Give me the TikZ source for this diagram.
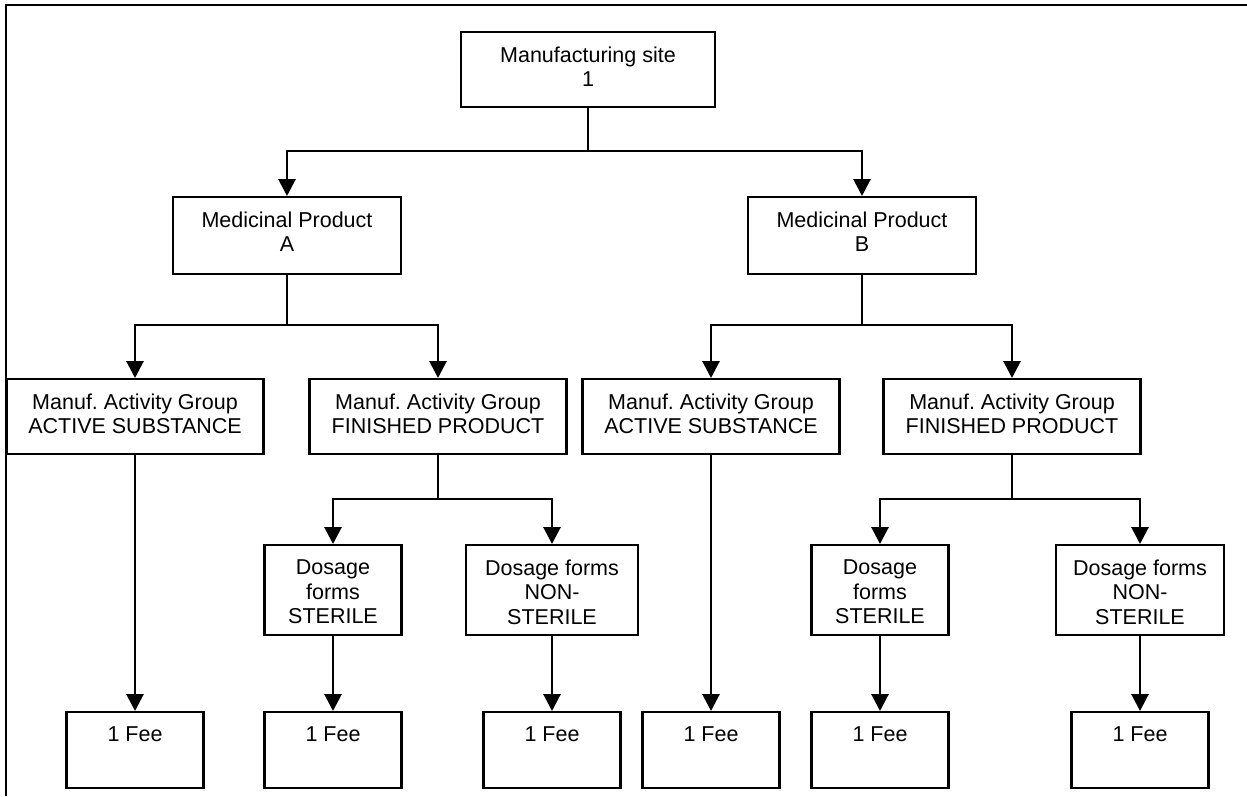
\documentclass[tikz,border=0pt]{standalone}
\usepackage{fontspec}
\setmainfont{Liberation Sans}
\usetikzlibrary{arrows.meta}
\begin{document}
\frenchspacing
\begin{tikzpicture}[x=1pt,y=-1pt,
  box/.style={draw, line width=2.1pt, inner sep=0pt, anchor=north},
  txt/.style={anchor=north, inner sep=0pt, align=center,
              font=\fontsize{21.5}{24.5}\selectfont},
  conn/.style={line width=2.9pt},
  arr/.style={conn, -{Triangle[length=17pt,width=17pt]}},
  frame/.style={line width=2.6pt}]
\useasboundingbox (0,0) rectangle (1247,796);

% open frame: top and left edges
\coordinate (fl) at (6,796);
\coordinate (fc) at (6,5);
\coordinate (fr) at (1247,5);
\draw[frame] (fl) -- (fc) -- (fr);

% level 0
\node[box, minimum width=254pt, minimum height=75pt] (site) at (588,31) {};
\node[txt] at ([yshift=-15.5pt]site.north) {Manufacturing site\\1};

% level 1
\node[box, minimum width=228pt, minimum height=77pt] (mpA) at (287,196) {};
\node[txt] at ([yshift=-15.5pt]mpA.north) {Medicinal Product\\A};
\node[box, minimum width=228pt, minimum height=77pt] (mpB) at (862,196) {};
\node[txt] at ([yshift=-15.5pt]mpB.north) {Medicinal Product\\B};

% level 2
\node[box, minimum width=257pt, minimum height=75pt] (asA) at (135,378) {};
\node[txt] at ([yshift=-15.5pt]asA.north) {Manuf. Activity Group\\ACTIVE SUBSTANCE};
\node[box, minimum width=257pt, minimum height=75pt] (fpA) at (438,378) {};
\node[txt] at ([yshift=-15.5pt]fpA.north) {Manuf. Activity Group\\FINISHED PRODUCT};
\node[box, minimum width=257pt, minimum height=75pt] (asB) at (711,378) {};
\node[txt] at ([yshift=-15.5pt]asB.north) {Manuf. Activity Group\\ACTIVE SUBSTANCE};
\node[box, minimum width=257pt, minimum height=75pt] (fpB) at (1012,378) {};
\node[txt] at ([yshift=-15.5pt]fpB.north) {Manuf. Activity Group\\FINISHED PRODUCT};

% level 3
\node[box, minimum width=137pt, minimum height=90pt] (stA) at (333,544) {};
\node[txt] at ([yshift=-15.5pt]stA.north) {Dosage\\forms\\STERILE};
\node[box, minimum width=172pt, minimum height=90pt] (nsA) at (552,544) {};
\node[txt] at ([yshift=-15.5pt]nsA.north) {Dosage forms\\NON-\\STERILE};
\node[box, minimum width=137pt, minimum height=90pt] (stB) at (880,544) {};
\node[txt] at ([yshift=-15.5pt]stB.north) {Dosage\\forms\\STERILE};
\node[box, minimum width=168pt, minimum height=90pt] (nsB) at (1140,544) {};
\node[txt] at ([yshift=-15.5pt]nsB.north) {Dosage forms\\NON-\\STERILE};

% fees
\foreach \n/\x in {f1/135, f2/333, f3/552, f4/711, f5/880, f6/1140}{
  \node[box, minimum width=137pt, minimum height=76pt] (\n) at (\x,711) {};
  \node[txt] at ([yshift=-15.5pt]\n.north) {1 Fee};
}

% junctions
\coordinate (j0) at (588,151);
\coordinate (jA) at (287,325);
\coordinate (jB) at (862,325);
\coordinate (jfA) at (438,499);
\coordinate (jfB) at (1012,499);

% connectors
\draw[conn] (site.south) -- (j0);
\draw[arr] (j0) -| (mpA.north);
\draw[arr] (j0) -| (mpB.north);

\draw[conn] (mpA.south) -- (jA);
\draw[arr] (jA) -| (asA.north);
\draw[arr] (jA) -| (fpA.north);
\draw[conn] (mpB.south) -- (jB);
\draw[arr] (jB) -| (asB.north);
\draw[arr] (jB) -| (fpB.north);

\draw[conn] (fpA.south) -- (jfA);
\draw[arr] (jfA) -| (stA.north);
\draw[arr] (jfA) -| (nsA.north);
\draw[conn] (fpB.south) -- (jfB);
\draw[arr] (jfB) -| (stB.north);
\draw[arr] (jfB) -| (nsB.north);

\draw[arr] (asA.south) -- (f1.north);
\draw[arr] (stA.south) -- (f2.north);
\draw[arr] (nsA.south) -- (f3.north);
\draw[arr] (asB.south) -- (f4.north);
\draw[arr] (stB.south) -- (f5.north);
\draw[arr] (nsB.south) -- (f6.north);
\end{tikzpicture}
\end{document}
